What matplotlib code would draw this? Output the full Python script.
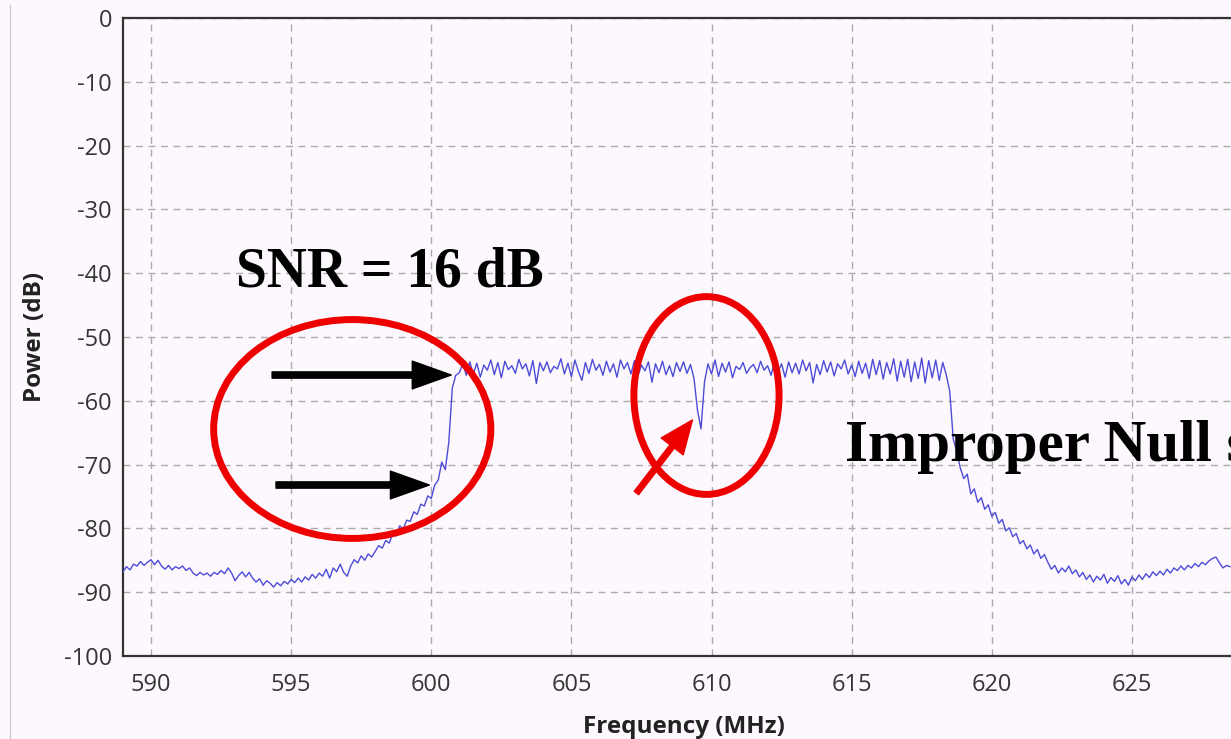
import numpy as np
import matplotlib
matplotlib.use("Agg")
import matplotlib.pyplot as plt
from matplotlib.patches import Ellipse
from matplotlib.lines import Line2D

# Spectrum trace, 0.125 MHz bins starting at 589 MHz
FREQ_START = 589.0
FREQ_STEP = 0.125

# noise floor below the channel, 589.0 - 597.875 MHz
floor_left = [
    -86.8, -86.0, -86.5, -85.6, -85.9, -85.2, -85.8, -85.3,
    -84.9, -85.7, -85.0, -85.9, -86.4, -85.8, -86.5, -86.0,
    -86.3, -85.9, -86.6, -86.2, -87.0, -87.4, -86.9, -87.3,
    -87.0, -87.5, -86.9, -87.2, -86.6, -87.1, -86.2, -87.0,
    -88.2, -87.4, -86.8, -87.6, -86.9, -87.8, -88.4, -87.9,
    -88.9, -88.2, -88.6, -89.2, -88.5, -89.0, -88.3, -88.7,
    -88.0, -88.5, -87.8, -88.4, -87.6, -88.1, -87.2, -87.8,
    -87.0, -87.5, -86.4, -87.8, -86.2, -86.8, -85.6, -86.9,
    -87.5, -85.9, -84.9, -85.4, -84.3, -85.0, -84.0, -84.5,
]
# lower band edge, 598.0 - 600.875 MHz
edge_rise = [
    -83.6, -82.7, -83.1, -81.9, -82.3, -80.8, -81.2, -79.6,
    -80.1, -78.7, -78.9, -77.4, -77.8, -76.2, -76.5, -74.9,
    -75.3, -73.2, -72.4, -69.6, -70.8, -66.5, -58.0, -56.0,
]
# occupied channel with the notch near 609.6 MHz, 601.0 - 618.375 MHz
channel = [
    -55.6, -54.2, -56.0, -53.9, -55.8, -54.1, -56.3, -54.4,
    -55.2, -53.6, -55.9, -54.0, -56.4, -53.8, -55.1, -54.5,
    -55.7, -53.5, -55.0, -54.2, -56.1, -53.7, -57.3, -54.0,
    -55.3, -53.9, -55.6, -54.6, -55.0, -53.4, -55.8, -54.1,
    -56.2, -53.6, -55.4, -56.8, -54.0, -55.7, -53.5, -55.2,
    -54.3, -56.0, -53.8, -55.5, -54.2, -56.3, -53.6, -55.0,
    -54.0, -55.8, -53.7, -56.1, -54.4, -55.3, -53.9, -57.1,
    -54.2, -55.6, -53.8, -55.9, -54.5, -56.2, -54.0, -55.4,
    -53.9, -55.7, -54.3, -56.5, -61.5, -64.4, -57.0, -54.2,
    -55.8, -53.6, -56.2, -54.1, -55.5, -53.9, -56.4, -54.6,
    -55.1, -54.0, -55.7, -54.8, -54.3, -55.6, -53.8, -55.2,
    -54.5, -56.0, -53.7, -55.4, -54.2, -56.3, -53.9, -55.6,
    -54.1, -55.8, -53.6, -55.3, -54.0, -57.2, -54.3, -55.9,
    -53.7, -55.5, -53.9, -56.1, -54.2, -55.0, -53.6, -55.8,
    -54.4, -56.2, -53.8, -55.7, -54.1, -56.5, -53.5, -55.9,
    -53.7, -56.6, -54.0, -55.8, -53.4, -56.9, -53.8, -56.3,
    -53.5, -57.0, -53.9, -56.5, -53.3, -57.2, -53.7, -56.4,
    -53.6, -56.8, -54.0, -55.9,
]
# upper band edge, 618.5 - 621.875 MHz
edge_fall = [
    -58.5, -66.0, -67.9, -70.5, -72.2, -71.5, -74.6, -73.8,
    -75.9, -75.2, -77.0, -76.3, -78.1, -77.5, -79.2, -78.6,
    -80.4, -79.9, -81.3, -80.8, -82.4, -81.9, -83.2, -82.6,
    -84.0, -83.3, -84.7, -84.1,
]
# noise floor above the channel, 622.0 - 628.5 MHz
floor_right = [
    -85.3, -86.4, -85.8, -87.0, -86.2, -86.8, -85.9, -87.1,
    -86.5, -87.6, -86.9, -88.0, -87.3, -88.4, -87.5, -88.1,
    -87.2, -88.6, -87.7, -88.3, -87.4, -88.7, -88.0, -88.9,
    -87.6, -88.2, -87.3, -88.0, -87.1, -87.7, -86.8, -87.4,
    -86.7, -87.3, -86.4, -87.0, -86.2, -86.6, -85.9, -86.5,
    -85.8, -86.2, -85.5, -86.0, -85.3, -85.7, -85.1, -84.7,
    -84.5, -85.4, -86.2, -85.8, -86.0,
]

x_ticks = [590, 595, 600, 605, 610, 615, 620, 625]
y_ticks = [0, -10, -20, -30, -40, -50, -60, -70, -80, -90, -100]

power = np.array(floor_left + edge_rise + channel + edge_fall + floor_right)
freq = FREQ_START + FREQ_STEP * np.arange(len(power))

plt.rcParams['font.family'] = ['Open Sans', 'DejaVu Sans']
plt.rcParams['axes.unicode_minus'] = False

BG = '#fdf8fd'
fig = plt.figure(figsize=(12.31, 7.39), dpi=100, facecolor=BG)
ax = fig.add_axes([123 / 1231, 83 / 739, 1121 / 1231, 638 / 739], facecolor=BG)

ax.plot(freq, power, color='#4c4cd8', lw=1.0, zorder=3)

ax.set_xlim(589, 629)
ax.set_ylim(-100, 0)
ax.set_xticks(x_ticks)
ax.set_yticks(y_ticks)
ax.grid(True, color='#aaaaaa', lw=1.0, linestyle=(0, (5, 4)))
ax.tick_params(length=0, labelsize=17, labelcolor='#353535')
ax.tick_params(axis='x', pad=12)
ax.tick_params(axis='y', pad=8)
for side in ['left', 'bottom', 'top']:
    ax.spines[side].set_color('#333333')
    ax.spines[side].set_linewidth(1.6)
ax.spines['right'].set_visible(False)

ax.set_xlabel('Frequency (MHz)', fontsize=17.5, fontweight='bold', color='#222222')
ax.set_ylabel('Power (dB)', fontsize=17.5, fontweight='bold', color='#222222')
ax.xaxis.set_label_coords(0.5, -0.093)
ax.yaxis.set_label_coords(-0.068, 0.5)

# thin panel border on the left
fig.add_artist(Line2D([10 / 1231, 10 / 1231], [0, 734 / 739], color='#cccccc', lw=1.0))

# annotations
serif = ['Liberation Serif', 'DejaVu Serif']
ax.text(593.04, -42.16, 'SNR = 16 dB', family=serif, fontsize=40, fontweight='bold',
        va='baseline', ha='left', zorder=6)
ax.text(614.75, -69.5, 'Improper Null s', family=serif, fontsize=42.5, fontweight='bold',
        va='baseline', ha='left', zorder=6, clip_on=False)

ax.add_patch(Ellipse((597.18, -64.42), 9.89, 34.3, fill=False, ec='#ee0000', lw=5.0, zorder=5))
ax.add_patch(Ellipse((609.82, -59.17), 5.18, 31.0, fill=False, ec='#ee0000', lw=5.0, zorder=5))

black_arrow = dict(facecolor='black', edgecolor='black', width=4.5, headwidth=20,
                   headlength=28, shrink=0)
ax.annotate('', xy=(600.71, -55.96), xytext=(594.32, -55.96), arrowprops=black_arrow, zorder=6)
ax.annotate('', xy=(599.93, -73.2), xytext=(594.46, -73.2), arrowprops=black_arrow, zorder=6)
red_arrow = dict(facecolor='#ee0000', edgecolor='#ee0000', width=4.0, headwidth=20,
                 headlength=24, shrink=0)
ax.annotate('', xy=(609.32, -63.0), xytext=(607.32, -74.45), arrowprops=red_arrow, zorder=6)

fig.savefig('out.png', dpi=100, facecolor=BG)
